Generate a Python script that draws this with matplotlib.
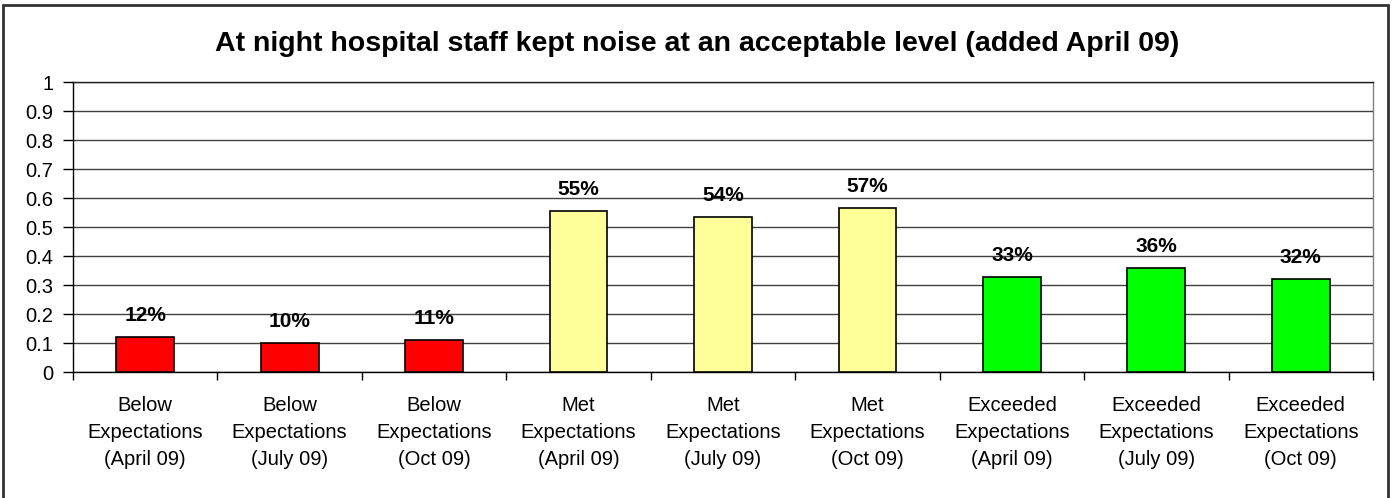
import matplotlib
matplotlib.use("Agg")
import matplotlib.pyplot as plt
from matplotlib.patches import Rectangle
from matplotlib.ticker import FixedLocator, FuncFormatter

plt.rcParams["font.family"] = ["Liberation Sans", "DejaVu Sans"]

categories = [
    "Below\nExpectations\n(April 09)",
    "Below\nExpectations\n(July 09)",
    "Below\nExpectations\n(Oct 09)",
    "Met\nExpectations\n(April 09)",
    "Met\nExpectations\n(July 09)",
    "Met\nExpectations\n(Oct 09)",
    "Exceeded\nExpectations\n(April 09)",
    "Exceeded\nExpectations\n(July 09)",
    "Exceeded\nExpectations\n(Oct 09)",
]
values = [0.122, 0.099, 0.109, 0.555, 0.536, 0.567, 0.327, 0.358, 0.320]
value_labels = ["12%", "10%", "11%", "55%", "54%", "57%", "33%", "36%", "32%"]
bar_colors = ["#FF0000"] * 3 + ["#FFFF99"] * 3 + ["#00FF00"] * 3
title = "At night hospital staff kept noise at an acceptable level (added April 09)"

W, H = 1394, 498
fig = plt.figure(figsize=(W / 100, H / 100), dpi=100)
ax = fig.add_axes([73 / W, (H - 372) / H, 1300 / W, 290 / H])

x = list(range(len(values)))
ax.bar(x, values, width=0.4, color=bar_colors, edgecolor="black", linewidth=1.2, zorder=3)

for xi, v, lab in zip(x, values, value_labels):
    ax.annotate(lab, (xi, v), xytext=(0, 15.5), textcoords="offset points",
                ha="center", va="center", fontsize=15, fontweight="bold", zorder=4)

ax.set_xlim(-0.5, len(values) - 0.5)
ax.set_ylim(0, 1)
ax.set_yticks([i / 10 for i in range(11)])
ax.yaxis.set_major_formatter(FuncFormatter(lambda v, p: f"{v:g}"))
ax.yaxis.grid(True, color="#404040", linewidth=1.0, zorder=0)

ax.xaxis.set_major_locator(FixedLocator([i - 0.5 for i in range(len(values) + 1)]))
ax.xaxis.set_major_formatter(FuncFormatter(lambda v, p: ""))
ax.xaxis.set_minor_locator(FixedLocator(x))
ax.set_xticklabels(categories, minor=True, fontsize=14.5)
for t in ax.xaxis.get_minorticklabels():
    t.set_linespacing(1.55)
ax.tick_params(axis="x", which="major", length=6, width=1, color="black")
ax.tick_params(axis="x", which="minor", length=0, pad=17)
ax.tick_params(axis="y", length=7, width=1, labelsize=14.5, pad=7)

for side in ["left", "bottom", "top", "right"]:
    ax.spines[side].set_color("black")
    ax.spines[side].set_linewidth(1.0)
ax.spines["right"].set_color("#808080")
ax.spines["top"].set_color("#202020")

fig.text(0.5, 1 - 44 / H, title, ha="center", va="center", fontsize=20.5, fontweight="bold")

fig.patches.append(Rectangle((3 / W, -0.01), 1385 / W, (H - 5) / H + 0.01, transform=fig.transFigure,
                             fill=False, edgecolor="#333333", linewidth=2.0))

fig.savefig("out.png", dpi=100)
